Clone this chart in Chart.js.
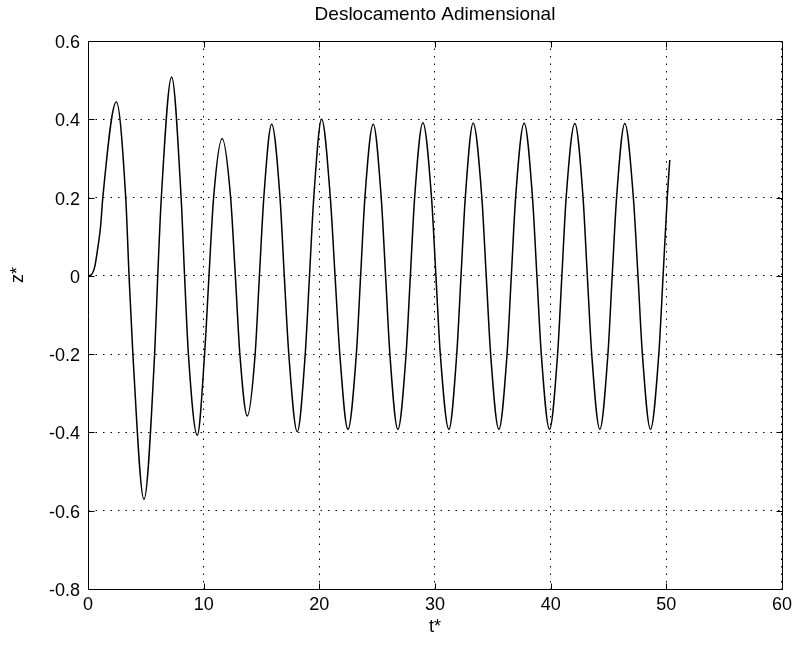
<!DOCTYPE html>
<html>
<head>
<meta charset="utf-8">
<script src="https://cdn.jsdelivr.net/npm/chart.js@4/dist/chart.umd.min.js"></script>
<style>
html,body{margin:0;padding:0;background:#fff;}
#wrap{width:797px;height:648px;}
</style>
</head>
<body>
<div id="wrap"><canvas id="c" width="797" height="648"></canvas></div>
<script>
const chartTitle = 'Deslocamento Adimensional';
const xLabel = 't*';
const yLabel = 'z*';
const xTicks = [0, 10, 20, 30, 40, 50, 60];
const yTicks = [0.6, 0.4, 0.2, 0, -0.2, -0.4, -0.6, -0.8];

// values (t*, z*)
const tValues = [
  0, 0.25, 0.58, 0.86, 1.1, 1.28, 2.45,
  3.26, 3.55, 3.88, 4.84,
  5.76, 6.03, 6.34, 7.23,
  8.05, 8.35, 8.68, 9.45,
  10.08, 10.46, 10.86, 11.6,
  12.33, 12.74, 13.13, 13.77,
  14.45, 14.82, 15.2, 15.88,
  16.6, 16.97, 17.36, 18.09,
  18.78, 19.15, 19.52, 20.2,
  20.95, 21.36, 21.77, 22.47,
  23.2, 23.57, 23.94, 24.66,
  25.35, 25.73, 26.1, 26.79,
  27.5, 27.87, 28.24, 28.95,
  29.7, 30.08, 30.46, 31.2,
  31.88, 32.25, 32.62, 33.3,
  34.05, 34.43, 34.81, 35.52,
  36.23, 36.6, 36.97, 37.71,
  38.43, 38.81, 39.19, 39.9,
  40.6, 40.97, 41.34, 42.09,
  42.8, 43.17, 43.55, 44.25,
  44.95, 45.32, 45.7, 46.41,
  47.15, 47.55, 47.93, 48.63,
  49.35, 49.72, 50.08, 50.3
];
const zValues = [
  0, 0.002, 0.023, 0.074, 0.13, 0.2, 0.444,
  0.2, 0, -0.2, -0.571,
  -0.2, 0, 0.2, 0.508,
  0.2, 0, -0.2, -0.407,
  -0.2, 0, 0.2, 0.351,
  0.2, 0, -0.2, -0.358,
  -0.2, 0, 0.2, 0.387,
  0.2, 0, -0.2, -0.398,
  -0.2, 0, 0.2, 0.400,
  0.2, 0, -0.2, -0.392,
  -0.2, 0, 0.2, 0.387,
  0.2, 0, -0.2, -0.392,
  -0.2, 0, 0.2, 0.391,
  0.2, 0, -0.2, -0.392,
  -0.2, 0, 0.2, 0.390,
  0.2, 0, -0.2, -0.392,
  -0.2, 0, 0.2, 0.390,
  0.2, 0, -0.2, -0.392,
  -0.2, 0, 0.2, 0.389,
  0.2, 0, -0.2, -0.392,
  -0.2, 0, 0.2, 0.389,
  0.2, 0, -0.2, -0.392,
  -0.2, 0, 0.2, 0.296
];

const points = tValues.map((t, i) => ({x: t, y: zValues[i]}));
const FONT = '"Liberation Sans", Arial, sans-serif';

const framePlugin = {
  id: 'frame',
  afterDatasetsDraw(chart) {
    const {ctx, chartArea: {left, right, top, bottom}, scales: {x, y}} = chart;
    const L = Math.round(left) + 0.5, R = Math.round(right) + 0.5;
    const T = Math.round(top) + 0.5, B = Math.round(bottom) + 0.5;
    ctx.save();
    ctx.strokeStyle = '#000';
    ctx.lineWidth = 1;
    ctx.beginPath();
    ctx.rect(L, T, R - L, B - T);
    const len = 6;
    xTicks.forEach(v => {
      const px = Math.round(x.getPixelForValue(v)) + 0.5;
      ctx.moveTo(px, B); ctx.lineTo(px, B - len);
      ctx.moveTo(px, T); ctx.lineTo(px, T + len);
    });
    yTicks.forEach(v => {
      const py = Math.round(y.getPixelForValue(v)) + 0.5;
      ctx.moveTo(L, py); ctx.lineTo(L + len, py);
      ctx.moveTo(R, py); ctx.lineTo(R - len, py);
    });
    ctx.stroke();
    ctx.restore();
  }
};

new Chart(document.getElementById('c'), {
  type: 'line',
  data: {
    datasets: [{
      data: points,
      borderColor: '#000',
      borderWidth: 1.5,
      pointRadius: 0,
      fill: false,
      cubicInterpolationMode: 'monotone'
    }]
  },
  options: {
    responsive: false,
    animation: false,
    layout: {padding: {left: 0, right: 13, top: 0, bottom: 0}},
    plugins: {legend: {display: false}, tooltip: {enabled: false}, title: {display: false}},
    scales: {
      x: {
        type: 'linear', position: 'bottom', min: 0, max: 60,
        afterBuildTicks: s => { s.ticks = xTicks.map(v => ({value: v})); },
        afterFit: s => { s.height = 59; },
        ticks: {color: '#000', font: {family: FONT, size: 18}, padding: 5, maxRotation: 0},
        grid: {color: '#000', lineWidth: 1, drawTicks: false},
        border: {display: false, dash: [1.5, 6]},
        title: {display: true, text: xLabel, color: '#000', font: {family: FONT, size: 18}, padding: {top: 0, bottom: 10}}
      },
      xTop: {
        type: 'linear', position: 'top', min: 0, max: 60,
        afterFit: s => { s.height = 41; },
        ticks: {display: false},
        grid: {display: false, drawTicks: false},
        border: {display: false},
        title: {display: true, text: chartTitle, color: '#000', font: {family: FONT, size: 19}, padding: {top: 3, bottom: 0}}
      },
      y: {
        type: 'linear', position: 'left', min: -0.8, max: 0.6,
        afterBuildTicks: s => { s.ticks = yTicks.map(v => ({value: v})); },
        afterFit: s => { s.width = 88; },
        ticks: {
          color: '#000', font: {family: FONT, size: 18}, padding: 8, labelOffset: 2,
          callback: v => (Math.abs(v) < 1e-9 ? '0' : String(Math.round(v * 10) / 10))
        },
        grid: {color: '#000', lineWidth: 1, drawTicks: false},
        border: {display: false, dash: [1.5, 6]},
        title: {display: true, text: ' '.repeat(16) + yLabel, color: '#000', font: {family: FONT, size: 18}, padding: {top: 7, bottom: 0}}
      }
    }
  },
  plugins: [framePlugin]
});
</script>
</body>
</html>
